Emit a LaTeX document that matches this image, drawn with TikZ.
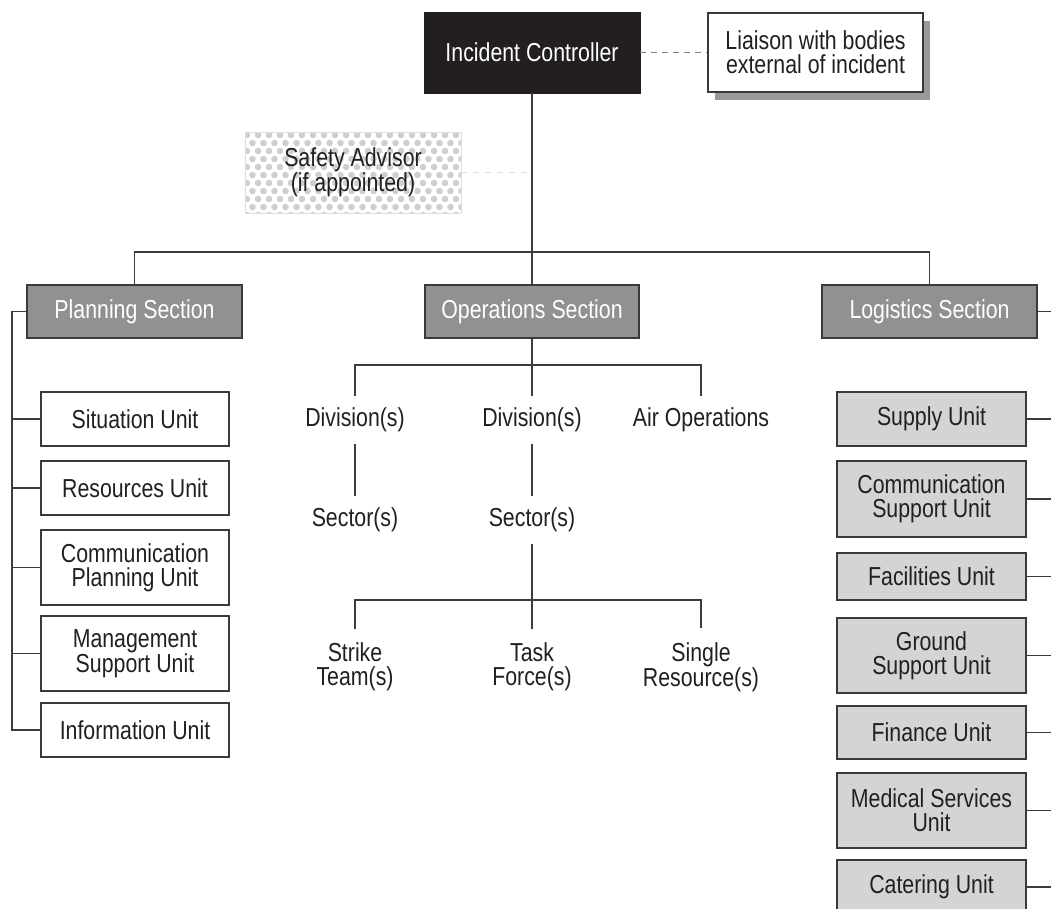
\documentclass[tikz,border=0pt]{standalone}
\usepackage{fontspec}
\setmainfont{Liberation Sans}[FakeStretch=0.82]
\usetikzlibrary{shadows}

\definecolor{ink}{HTML}{231F20}
\definecolor{boxline}{HTML}{3A3A3A}
\definecolor{wire}{HTML}{3C3C3C}
\definecolor{secfill}{HTML}{919191}
\definecolor{unitfill}{HTML}{D4D4D4}
\definecolor{shadowgray}{HTML}{999999}
\definecolor{dotgray}{HTML}{CFCFCF}
\definecolor{faint}{HTML}{DDDDDD}

\begin{document}
\begin{tikzpicture}[x=1pt,y=-1pt,
  every node/.style={font=\fontsize{26}{24}\selectfont, text=ink, align=center, inner sep=0pt},
  ctrl/.style={fill=ink, draw=ink, text=white},
  liaisonbox/.style={fill=white, draw=boxline, line width=1.2pt,
    drop shadow={shadow xshift=7pt, shadow yshift=-8pt, fill=shadowgray, opacity=1}},
  safetybox/.style={draw=faint, line width=0.8pt},
  secbox/.style={fill=secfill, draw=boxline, line width=1.4pt, text=white,
    minimum height=53pt},
  planunit/.style={fill=white, draw=boxline, line width=1.4pt, minimum width=188pt},
  logunit/.style={fill=unitfill, draw=boxline, line width=1.4pt, minimum width=189pt},
  oplabel/.style={text height=19pt, text depth=5.5pt, inner ysep=12pt},
  oplabeltwo/.style={inner ysep=14pt},
  wireline/.style={draw=wire, line width=1.3pt},
  linkdash/.style={draw=gray, line width=1.1pt, dash pattern=on 6pt off 5pt},
  faintdash/.style={draw=faint, line width=1.1pt, dash pattern=on 6pt off 6pt}
]
\useasboundingbox (0,0) rectangle (1051,909);
\clip (0,0) rectangle (1051,909);

% ---- top of the command structure
\node[ctrl, minimum width=216pt, minimum height=81pt] (ic) at (532,52.5) {Incident Controller};
\node[liaisonbox, minimum width=215pt, minimum height=79pt] (liaison) at (815.5,52.5)
  {Liaison with bodies\\external of incident};
\draw[linkdash] (ic.east) -- (liaison.west);

% safety advisor: halftone dotted panel
\begin{scope}
  \clip (245,132) rectangle (461,213);
  \foreach \j in {0,...,10} {
    \foreach \i in {0,...,20} {
      \fill[dotgray] ({247+\i*11+mod(\j,2)*5.5},{135+\j*8}) circle (3.3pt);
    }
  }
\end{scope}
\node[safetybox, minimum width=216pt, minimum height=81pt] (safety) at (353,172.5)
  {Safety Advisor\\(if appointed)};

% ---- sections
\node[secbox, minimum width=215pt] (plan) at (134.5,311.5) {Planning Section};
\node[secbox, minimum width=214pt] (ops) at (532,311.5) {Operations Section};
\node[secbox, minimum width=215pt] (logi) at (929.5,311.5) {Logistics Section};

\coordinate (bus) at (532,252);
\draw[wireline] (ic.south) -- (ops.north);
\draw[wireline] (plan.north) -- (plan.north |- bus) -- (logi.north |- bus) -- (logi.north);
\draw[faintdash] (safety.east) -- (safety.east -| ic.south);

% ---- planning units
\node[planunit, minimum height=54pt] (sit) at (135,419) {Situation Unit};
\node[planunit, minimum height=54pt] (res) at (135,488) {Resources Unit};
\node[planunit, minimum height=75pt] (cpu) at (135,567.5) {Communication\\Planning Unit};
\node[planunit, minimum height=75pt] (msu) at (135,653.5) {Management\\Support Unit};
\node[planunit, minimum height=54pt] (inf) at (135,730) {Information Unit};

\coordinate (pspine) at (12,0);
\draw[wireline] (plan.west) -- (plan.west -| pspine) -- (inf.west -| pspine) -- (inf.west);
\foreach \u in {sit,res,cpu,msu} {
  \draw[wireline] (\u.west) -- (\u.west -| pspine);
}

% ---- operations branch
\node[oplabel] (div1) at (355,420) {Division(s)};
\node[oplabel] (div2) at (532,420) {Division(s)};
\node[oplabel] (air) at (701,420) {Air Operations};
\node[oplabel] (sec1) at (355,520) {Sector(s)};
\node[oplabel] (sec2) at (532,520) {Sector(s)};
\node[oplabeltwo] (stk) at (355,667) {Strike\\Team(s)};
\node[oplabeltwo] (tsk) at (532,667) {Task\\Force(s)};
\node[oplabeltwo] (sng) at (701,667) {Single\\Resource(s)};

\coordinate (opsbus) at (532,365);
\coordinate (secbus) at (532,600);
\draw[wireline] (ops.south) -- (div2.north);
\draw[wireline] (div1.north) -- (div1.north |- opsbus) -- (air.north |- opsbus) -- (air.north);
\draw[wireline] (div1.south) -- (sec1.north);
\draw[wireline] (div2.south) -- (sec2.north);
\draw[wireline] (sec2.south) -- (tsk.north);
\draw[wireline] (stk.north) -- (stk.north |- secbus) -- (sng.north |- secbus) -- (sng.north);

% ---- logistics units
\node[logunit, minimum height=54pt] (sup) at (931.5,419) {Supply Unit};
\node[logunit, minimum height=76pt] (csu) at (931.5,499) {Communication\\Support Unit};
\node[logunit, minimum height=47pt] (fac) at (931.5,576.5) {Facilities Unit};
\node[logunit, minimum height=75pt] (gsu) at (931.5,655.5) {Ground\\Support Unit};
\node[logunit, minimum height=53pt] (fin) at (931.5,732.5) {Finance Unit};
\node[logunit, minimum height=75pt] (med) at (931.5,810.5) {Medical Services\\Unit};
\node[logunit, minimum height=54pt] (cat) at (931.5,887) {Catering Unit};

\coordinate (redge) at (1051,0);
\draw[wireline] (logi.east) -- (logi.east -| redge);
\foreach \u in {sup,csu,fac,gsu,fin,med,cat} {
  \draw[wireline] (\u.east) -- (\u.east -| redge);
}
\end{tikzpicture}
\end{document}
